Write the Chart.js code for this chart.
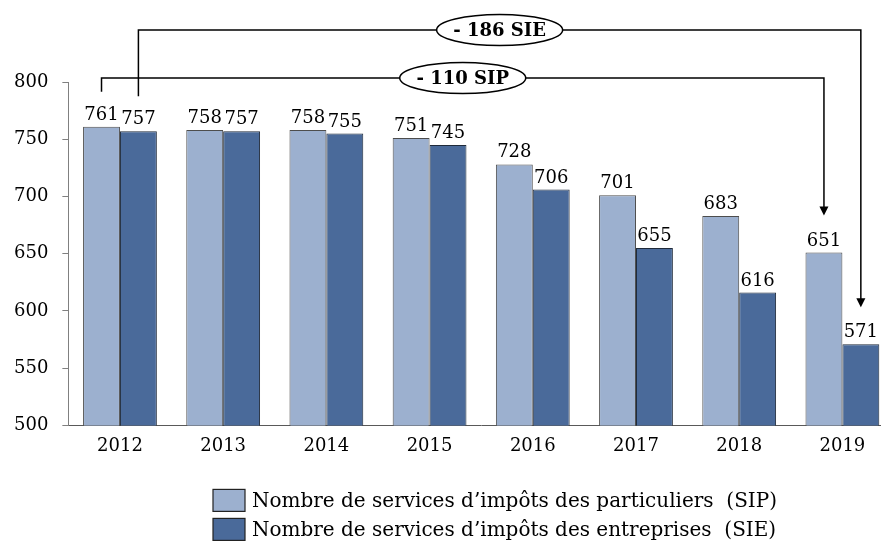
<!DOCTYPE html>
<html>
<head>
<meta charset="utf-8">
<script src="https://cdn.jsdelivr.net/npm/chart.js@4"></script>
<style>
html, body { margin: 0; padding: 0; background: #fff; overflow: hidden; }
#wrap { width: 896px; height: 548px; }
</style>
</head>
<body>
<div id="wrap"><canvas id="chart" width="896" height="548"></canvas></div>
<script>
// data
const years = ["2012", "2013", "2014", "2015", "2016", "2017", "2018", "2019"];
const sip = [761, 758, 758, 751, 728, 701, 683, 651];
const sie = [757, 757, 755, 745, 706, 655, 616, 571];
const sipLabel = "Nombre de services d’impôts des particuliers  (SIP)";
const sieLabel = "Nombre de services d’impôts des entreprises  (SIE)";
const yMin = 500, yMax = 800, yStep = 50;

// the two "from 2012 to 2019" brackets
const notes = [
    { text: "- 110 SIP", ds: 0, from: 0, to: 7, lift: 4 },
    { text: "- 186 SIE", ds: 1, from: 0, to: 7, lift: 52 }
];

const serif = "'DejaVu Serif', 'Liberation Serif', serif";

const valueLabels = {
    id: "valueLabels",
    afterDatasetsDraw(chart) {
        let ctx = chart.ctx;
        ctx.save();
        ctx.font = "18px " + serif;
        ctx.fillStyle = "#000";
        ctx.textAlign = "center";
        ctx.textBaseline = "alphabetic";
        chart.data.datasets.forEach((ds, i) => {
            chart.getDatasetMeta(i).data.forEach((bar, j) => {
                ctx.fillText(ds.data[j], bar.x, bar.y - 7);
            });
        });
        ctx.restore();
    }
};

const brackets = {
    id: "brackets",
    afterDraw(chart) {
        let ctx = chart.ctx;
        let top = chart.chartArea.top;
        ctx.save();
        ctx.strokeStyle = "#000";
        ctx.fillStyle = "#000";
        ctx.lineWidth = 1.5;
        notes.forEach(n => {
            let bars = chart.getDatasetMeta(n.ds).data;
            let a = bars[n.from], b = bars[n.to];
            let y = top - n.lift;
            let tip = b.y - 37;
            ctx.beginPath();
            ctx.moveTo(a.x, a.y - 35);
            ctx.lineTo(a.x, y);
            ctx.lineTo(b.x, y);
            ctx.lineTo(b.x, tip - 8);
            ctx.stroke();
            // arrow head
            ctx.beginPath();
            ctx.moveTo(b.x - 4.5, tip - 9);
            ctx.lineTo(b.x + 4.5, tip - 9);
            ctx.lineTo(b.x, tip);
            ctx.closePath();
            ctx.fill();
            // ellipse label
            let cx = (a.x + b.x) / 2;
            ctx.beginPath();
            ctx.ellipse(cx, y, 63, 15.5, 0, 0, Math.PI * 2);
            ctx.fillStyle = "#fff";
            ctx.fill();
            ctx.stroke();
            ctx.fillStyle = "#000";
            ctx.font = "bold 18px " + serif;
            ctx.textAlign = "center";
            ctx.textBaseline = "middle";
            ctx.fillText(n.text, cx, y + 1);
        });
        ctx.restore();
    }
};

const boxLegend = {
    id: "boxLegend",
    afterDraw(chart) {
        let ctx = chart.ctx;
        let y0 = chart.chartArea.bottom + 64;
        ctx.save();
        ctx.font = "20px " + serif;
        ctx.textBaseline = "middle";
        chart.data.datasets.forEach((ds, i) => {
            let y = y0 + i * 29;
            ctx.fillStyle = ds.backgroundColor;
            ctx.fillRect(213, y, 32, 22);
            ctx.strokeStyle = "#222";
            ctx.lineWidth = 1.2;
            ctx.strokeRect(213, y, 32, 22);
            ctx.fillStyle = "#000";
            ctx.fillText(ds.label, 252, y + 12);
        });
        ctx.restore();
    }
};

new Chart(document.getElementById("chart"), {
    type: "bar",
    data: {
        labels: years,
        datasets: [
            { label: sipLabel, data: sip, backgroundColor: "#9cb0cf", borderColor: "#4d4d4d", borderWidth: 1 },
            { label: sieLabel, data: sie, backgroundColor: "#4a6a9a", borderColor: "#1f2a3a", borderWidth: 1 }
        ]
    },
    options: {
        responsive: false,
        animation: false,
        layout: { padding: { top: 82, right: 2, bottom: 81, left: 0 } },
        categoryPercentage: 0.715,
        barPercentage: 1,
        plugins: {
            legend: { display: false },
            tooltip: { enabled: false }
        },
        scales: {
            x: {
                grid: { display: true, drawOnChartArea: false, drawTicks: false },
                border: { display: true, color: "#595959", width: 1 },
                ticks: { color: "#000", padding: 10, font: { family: serif, size: 18 } }
            },
            y: {
                min: yMin,
                max: yMax,
                ticks: { stepSize: yStep, color: "#000", padding: 14, font: { family: serif, size: 18 } },
                grid: { drawOnChartArea: false, drawTicks: true, tickLength: 6, color: "#808080" },
                border: { display: true, color: "#808080", width: 1 }
            }
        }
    },
    plugins: [valueLabels, brackets, boxLegend]
});
</script>
</body>
</html>
